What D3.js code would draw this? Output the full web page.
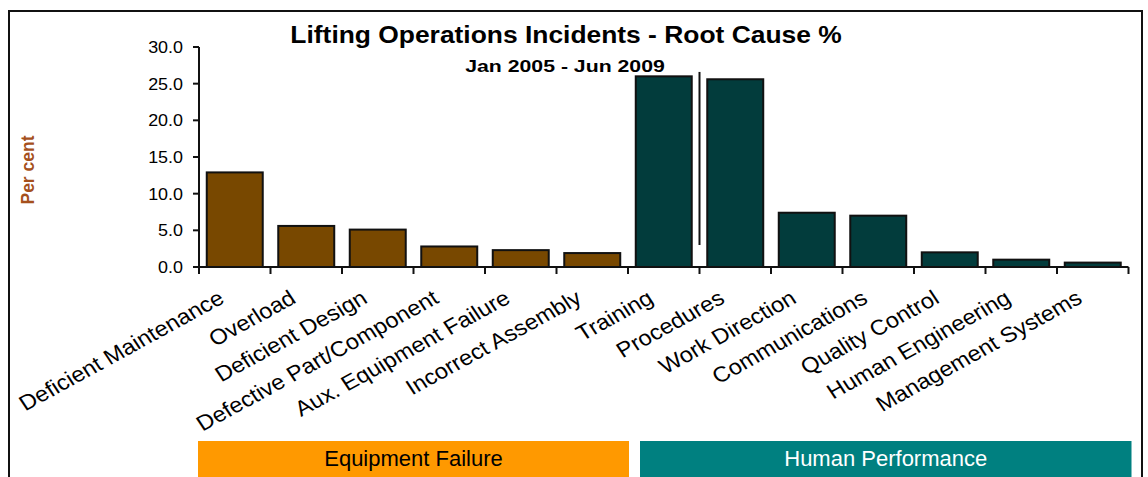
<!doctype html>
<html>
<head>
  <meta charset="UTF-8">
  <title>Lifting Operations Incidents</title>
  <style type="text/css">
    body { margin: 0; background: #fff; }
    svg text { font-family: "Liberation Sans", Arial, sans-serif; }
  </style>
  <script src="https://d3js.org/d3.v7.min.js"></script>
</head>
<body>
  <div id="chart"></div>
  <script>
    // data
    var categories = ["Deficient Maintenance", "Overload", "Deficient Design", "Defective Part/Component",
      "Aux. Equipment Failure", "Incorrect Assembly", "Training", "Procedures", "Work Direction",
      "Communications", "Quality Control", "Human Engineering", "Management Systems"];
    var values = [12.9, 5.6, 5.1, 2.8, 2.3, 1.9, 26.0, 25.6, 7.4, 7.0, 2.0, 1.0, 0.6];
    var groupNames = ["Equipment Failure", "Human Performance"];
    var groupSizes = [6, 7];
    var yTicks = [0, 5, 10, 15, 20, 25, 30];
    var separatorRange = [3.0, 26.6];

    (function() {
      var w = 1148, h = 477,
        plotLeft = 199, plotRight = 1128.5, plotTop = 47, plotBottom = 267,
        barColors = ["#784800", "#023c3c"],
        bandColors = ["#ff9900", "#008080"],
        bandText = ["#000", "#fff"];

      var svg = d3.select("#chart").append("svg")
        .attr("width", w)
        .attr("height", h);

      // outer frame
      svg.append("rect")
        .attr("x", 9).attr("y", 11)
        .attr("width", 1133).attr("height", 520)
        .attr("fill", "none")
        .attr("stroke", "#111")
        .attr("stroke-width", 2);

      var x = d3.scaleBand()
        .domain(categories)
        .range([plotLeft, plotRight])
        .paddingInner(0.217)
        .paddingOuter(0.1085);
      var step = x.step();
      var edge = function(i) { return plotLeft + i * step; };

      var y = d3.scaleLinear().domain([0, 30]).range([plotBottom, plotTop]);

      var groupOf = [];
      groupSizes.forEach(function(n, g) { for (var k = 0; k < n; k++) groupOf.push(g); });

      // title
      svg.append("text")
        .attr("transform", "translate(566,43) scale(1.1,1)")
        .attr("text-anchor", "middle")
        .style("font-size", "24px").style("font-weight", "bold")
        .text("Lifting Operations Incidents - Root Cause %");
      svg.append("text")
        .attr("transform", "translate(565,72) scale(1.25,1)")
        .attr("text-anchor", "middle")
        .style("font-size", "17px").style("font-weight", "bold")
        .text("Jan 2005 - Jun 2009");

      // y label
      svg.append("text")
        .attr("transform", "translate(34,170) rotate(-90)")
        .attr("text-anchor", "middle")
        .attr("fill", "#a5501c")
        .style("font-size", "17.5px").style("font-weight", "bold")
        .text("Per cent");

      // bars
      svg.selectAll("rect.bar")
        .data(values)
        .enter().append("rect")
        .attr("class", "bar")
        .attr("x", function(d, i) { return x(categories[i]); })
        .attr("width", x.bandwidth())
        .attr("y", function(d) { return y(d); })
        .attr("height", function(d) { return y(0) - y(d); })
        .attr("fill", function(d, i) { return barColors[groupOf[i]]; })
        .attr("stroke", "#111")
        .attr("stroke-width", 2);

      // separator between Training and Procedures
      svg.append("line")
        .attr("x1", edge(7)).attr("x2", edge(7))
        .attr("y1", y(separatorRange[1])).attr("y2", y(separatorRange[0]))
        .attr("stroke", "#111").attr("stroke-width", 2);

      // y axis
      svg.append("line")
        .attr("x1", plotLeft).attr("x2", plotLeft)
        .attr("y1", y(30)).attr("y2", y(0))
        .attr("stroke", "#111").attr("stroke-width", 2);
      svg.selectAll(".ytick")
        .data(yTicks)
        .enter().append("line")
        .attr("class", "ytick")
        .attr("x1", plotLeft - 6).attr("x2", plotLeft)
        .attr("y1", function(d) { return y(d); })
        .attr("y2", function(d) { return y(d); })
        .attr("stroke", "#111").attr("stroke-width", 2);
      svg.selectAll(".ylab")
        .data(yTicks)
        .enter().append("text")
        .attr("class", "ylab")
        .attr("transform", function(d) { return "translate(183," + (y(d) + 6) + ") scale(1.12,1)"; })
        .attr("text-anchor", "end")
        .style("font-size", "16px")
        .text(function(d) { return d.toFixed(1); });

      // x axis
      svg.append("line")
        .attr("x1", plotLeft).attr("x2", plotRight)
        .attr("y1", y(0)).attr("y2", y(0))
        .attr("stroke", "#111").attr("stroke-width", 2);
      svg.selectAll(".xtick")
        .data(d3.range(categories.length + 1))
        .enter().append("line")
        .attr("class", "xtick")
        .attr("x1", function(i) { return edge(i); })
        .attr("x2", function(i) { return edge(i); })
        .attr("y1", y(0)).attr("y2", y(0) + 7)
        .attr("stroke", "#111").attr("stroke-width", 2);
      svg.selectAll(".xlab")
        .data(categories)
        .enter().append("text")
        .attr("class", "xlab")
        .attr("transform", function(d) {
          return "translate(" + (x(d) + x.bandwidth() / 2 - 9) + ",302) scale(1.1,1) rotate(-31)";
        })
        .attr("text-anchor", "end")
        .style("font-size", "21.5px")
        .text(function(d) { return d; });

      // group bands
      var start = 0;
      groupSizes.forEach(function(n, g) {
        var x0 = edge(start) + (g === 0 ? -1 : 12),
          x1 = edge(start + n) + (g === 0 ? 1 : 3);
        svg.append("rect")
          .attr("x", x0).attr("y", 441)
          .attr("width", x1 - x0).attr("height", 40)
          .attr("fill", bandColors[g]);
        svg.append("text")
          .attr("x", (x0 + x1) / 2).attr("y", 466)
          .attr("text-anchor", "middle")
          .attr("fill", bandText[g])
          .style("font-size", "22px")
          .text(groupNames[g]);
        start += n;
      });
    })();
  </script>
</body>
</html>
